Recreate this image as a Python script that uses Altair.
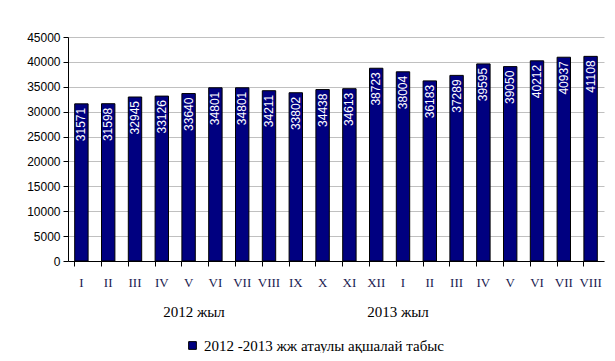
import altair as alt
import pandas as pd

years = ["2012"] * 12 + ["2013"] * 8
months = ["I", "II", "III", "IV", "V", "VI", "VII", "VIII", "IX", "X", "XI", "XII",
          "I", "II", "III", "IV", "V", "VI", "VII", "VIII"]
values = [31571, 31598, 32945, 33126, 33640, 34801, 34801, 34211, 33802, 34438, 34613, 38723,
          38004, 36183, 37289, 39595, 39050, 40212, 40937, 41108]
series_name = "2012 -2013 жж атаулы ақшалай табыс"
year_labels = ["2012 жыл", "2013 жыл"]

df = pd.DataFrame({
    "key": [f"{y}|{m}" for y, m in zip(years, months)],
    "value": values,
    "series": [series_name] * len(values),
})

W, H = 536, 224

x = alt.X("key:N", sort=None, title=None,
          scale=alt.Scale(paddingInner=0.5, paddingOuter=0.25),
          axis=alt.Axis(labelExpr="split(datum.label, '|')[1]", labelAngle=0,
                        labelFont="Liberation Serif", labelFontSize=13, labelColor="#1a1a50",
                        domainColor="black", tickColor="black", tickSize=5, bandPosition=0,
                        labelPadding=10, grid=False, labelOverlap=False))
y = alt.Y("value:Q", title=None,
          scale=alt.Scale(domain=[0, 45000], nice=False),
          axis=alt.Axis(values=list(range(0, 45001, 5000)), format="d", labelOverlap=False,
                        labelFont="Liberation Sans", labelFontSize=12, labelColor="black",
                        domainColor="black", tickColor="black", tickSize=5,
                        gridColor="#c0c0c0", labelPadding=3))

base = alt.Chart(df)

bars = base.mark_bar(stroke="black", strokeWidth=1).encode(
    x=x, y=y,
    color=alt.Color("series:N",
                    scale=alt.Scale(domain=[series_name], range=["#000080"]),
                    legend=alt.Legend(orient="none", legendX=117, legendY=301, title=None,
                                      symbolType="square", symbolSize=60, labelLimit=0,
                                      labelFont="Liberation Serif", labelFontSize=15,
                                      labelColor="black", symbolStrokeColor="black",
                                      symbolStrokeWidth=1)),
)

labels = base.mark_text(angle=270, align="right", baseline="middle", dx=-4,
                        color="white", font="Liberation Sans", fontSize=12).encode(
    x=x, y=y,
    text=alt.Text("value:Q", format="d"),
)

yl = pd.DataFrame({"t": year_labels, "px": [126, 330]})
year_text = alt.Chart(yl).mark_text(font="Liberation Serif", fontSize=15, color="black",
                                    baseline="middle", align="center").encode(
    x=alt.X("px:Q", scale=None), y=alt.value(275), text="t:N")

chart = alt.layer(bars, labels, year_text).properties(
    width=W, height=H,
    padding={"left": 60, "top": 29, "right": 3, "bottom": 92},
    autosize=alt.AutoSizeParams(type="none"),
).configure_view(stroke=None)

chart.save("out.html", embed_options={"renderer": "svg", "actions": False})
